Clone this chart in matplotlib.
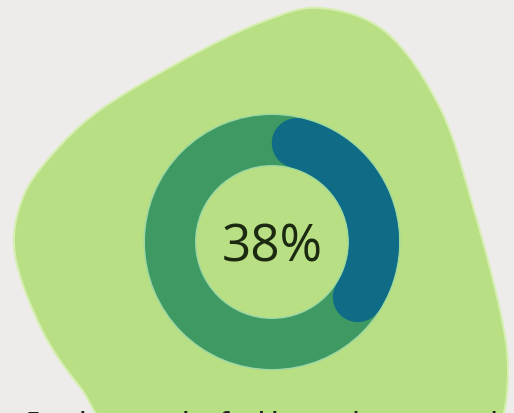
import numpy as np
import matplotlib.pyplot as plt
from matplotlib.path import Path
from matplotlib.patches import PathPatch, Wedge

# data
share_pct = 38
label_text = f"{share_pct}%"
caption = "Employees who feel burned out at work"

# blob outline anchors (pixel coords, y down), clockwise
blob_x = [321, 387, 441, 474, 500, 508, 500, 470, 300, 130, 80, 42, 15, 22, 50, 100, 187, 262]
blob_y = [8, 33, 110, 210, 310, 370, 425, 455, 470, 440, 387, 330, 255, 200, 157, 110, 58, 22]

# colours
bg_color = '#eeecea'
blob_color = '#b9df85'
ring_color = '#3e9a62'
arc_color = '#0f6b86'
text_color = '#1b2a10'

W, H, dpi = 514, 413, 100
cx, cy = 272, 242
r_out, r_in = 127, 77
thick = r_out - r_in
r_mid = (r_out + r_in) / 2


def closed_bezier(xs, ys):
    # Catmull-Rom anchors -> cubic bezier path, closed
    pts = np.column_stack([xs, ys]).astype(float)
    n = len(pts)
    verts = [pts[0]]
    codes = [Path.MOVETO]
    for i in range(n):
        p0, p1 = pts[i - 1], pts[i]
        p2, p3 = pts[(i + 1) % n], pts[(i + 2) % n]
        verts += [p1 + (p2 - p0) / 6, p2 - (p3 - p1) / 6, p2]
        codes += [Path.CURVE4] * 3
    return Path(verts, codes)


fig = plt.figure(figsize=(W / dpi, H / dpi), dpi=dpi, facecolor=bg_color)
ax = fig.add_axes([0, 0, 1, 1])
ax.set_xlim(0, W)
ax.set_ylim(H, 0)
ax.set_aspect('equal')
ax.axis('off')

# background blob with a faint light rim
ax.add_patch(PathPatch(closed_bezier(blob_x, blob_y), facecolor=blob_color,
                       edgecolor='#d6eeb2', lw=1.5, zorder=1))

# full ring
ax.add_patch(Wedge((cx, cy), r_out + 1.5, 0, 360, width=thick + 3,
                   facecolor='#9ed8a2', edgecolor='none', zorder=2))
ax.add_patch(Wedge((cx, cy), r_out, 0, 360, width=thick,
                   facecolor=ring_color, edgecolor='none', zorder=3))

# progress arc with round caps, total extent = share of full circle
cap = np.degrees((thick / 2) / r_mid)
start = 90 - cap
end = 90 - 360 * share_pct / 100 + cap
theta = np.radians(np.linspace(start, end, 200))
ax.plot(cx + r_mid * np.cos(theta), cy - r_mid * np.sin(theta),
        color=arc_color, lw=thick * 72 / dpi, solid_capstyle='round', zorder=4)

ax.text(cx, 262, label_text, ha='center', va='baseline', fontsize=37,
        family='Open Sans', color=text_color, zorder=5)

# caption, mostly cut off by the bottom edge (as in the source image)
ax.text(266, 430, caption, ha='center', va='baseline', fontsize=18,
        family='Open Sans', fontweight='semibold', color='#222222', zorder=5)

fig.savefig('out.png', dpi=dpi, facecolor=bg_color)
